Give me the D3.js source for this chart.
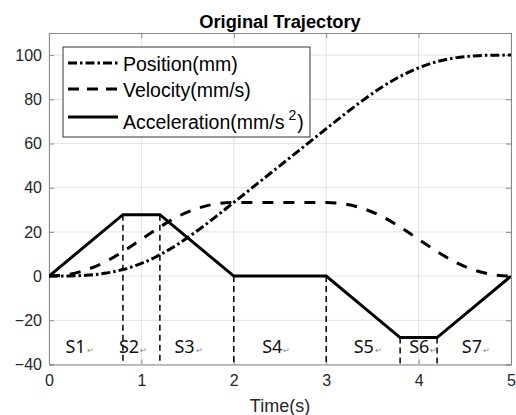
<!DOCTYPE html>
<html><head><meta charset="utf-8">
<script src="https://cdn.jsdelivr.net/npm/d3@7"></script>
<style>body{margin:0;background:#fff}svg{display:block}</style>
</head><body><svg id="c" width="516" height="415"></svg>
<script>
// ---- data ----
const timeSamples = [0,0.2,0.4,0.6,0.8,1.0,1.2,1.4,1.6,1.8,2.0,2.2,2.4,2.6,2.8,3.0,3.2,3.4,3.6,3.8,4.0,4.2,4.4,4.6,4.8,5.0];
const position = [0,0.05,0.37,1.25,2.96,5.74,9.63,14.58,20.37,26.71,33.33,40.0,46.67,53.33,60.0,66.67,73.29,79.63,85.42,90.37,94.26,97.04,98.75,99.63,99.95,100];
const velocity = [0,0.69,2.78,6.25,11.11,16.67,22.22,27.08,30.56,32.64,33.33,33.33,33.33,33.33,33.33,33.33,32.64,30.56,27.08,22.22,16.67,11.11,6.25,2.78,0.69,0];
const accelTimes = [0,0.8,1.2,2,3,3.8,4.2,5];
const accelValues = [0,27.8,27.8,0,0,-27.8,-27.8,0];
const segmentTimes = [0.8,1.2,2,3,3.8,4.2];
const segmentLabels = ["S1","S2","S3","S4","S5","S6","S7"];
const segmentLabelX = [0.33,0.91,1.51,2.46,3.45,4.05,4.62];
const xTicks = [0,1,2,3,4,5];
const yTicks = [-40,-20,0,20,40,60,80,100];
const legendLabels = ["Position(mm)","Velocity(mm/s)","Acceleration(mm/s"];
const titleText = "Original Trajectory";
const xLabel = "Time(s)";

// ---- layout ----
const svg = d3.select("#c");
const L = 49, R = 511, T = 33, B = 364.5;
const x = d3.scaleLinear().domain([0,5]).range([L,R]);
const y = d3.scaleLinear().domain([-40,110]).range([B,T]);
const font = "'Liberation Sans', Arial, sans-serif";

// grid
const g = svg.append("g");
g.selectAll(".gx").data(xTicks).enter().append("line")
  .attr("x1",d=>x(d)).attr("x2",d=>x(d)).attr("y1",T).attr("y2",B)
  .attr("stroke","#e3e3e3").attr("stroke-width",1);
g.selectAll(".gy").data(yTicks).enter().append("line")
  .attr("x1",L).attr("x2",R).attr("y1",d=>y(d)).attr("y2",d=>y(d))
  .attr("stroke","#e3e3e3").attr("stroke-width",1);

// axes (ticks inward, box)
const axB = d3.axisBottom(x).tickValues(xTicks).tickSize(-5).tickPadding(10).tickFormat(d3.format("d"));
const axT = d3.axisTop(x).tickValues(xTicks).tickSize(-5).tickFormat("");
const axL = d3.axisLeft(y).tickValues(yTicks).tickSize(-5).tickPadding(7).tickFormat(d3.format("d"));
const axR = d3.axisRight(y).tickValues(yTicks).tickSize(-5).tickFormat("");
function styleAx(sel){
  sel.select(".domain").attr("stroke","#888").attr("stroke-width",1);
  sel.selectAll(".tick line").attr("stroke","#888");
  sel.selectAll(".tick text").attr("fill","#262626").style("font-family",font).style("font-size","16px");
}
svg.append("g").attr("transform",`translate(0,${B})`).call(axB).call(styleAx);
svg.append("g").attr("transform",`translate(0,${T})`).call(axT).call(styleAx);
svg.append("g").attr("transform",`translate(${L},0)`).call(axL).call(styleAx);
svg.append("g").attr("transform",`translate(${R},0)`).call(axR).call(styleAx);

// clip
svg.append("clipPath").attr("id","clip").append("rect").attr("x",L).attr("y",T).attr("width",R-L).attr("height",B-T);
const plot = svg.append("g").attr("clip-path","url(#clip)");

// segment dashed verticals
segmentTimes.forEach(t=>{
  const i = accelTimes.indexOf(t);
  plot.append("line").attr("x1",x(t)).attr("x2",x(t))
    .attr("y1",y(accelValues[i])).attr("y2",B)
    .attr("stroke","#000").attr("stroke-width",1.5).attr("stroke-dasharray","6,4");
});

// curves
const lineP = d3.line().x((d,i)=>x(timeSamples[i])).y(d=>y(d)).curve(d3.curveMonotoneX);
plot.append("path").datum(position).attr("d",lineP).attr("fill","none")
  .attr("stroke","#000").attr("stroke-width",3).attr("stroke-dasharray","9,3,2.5,3");
plot.append("path").datum(velocity).attr("d",lineP).attr("fill","none")
  .attr("stroke","#000").attr("stroke-width",3).attr("stroke-dasharray","11,10");
const lineA = d3.line().x((d,i)=>x(accelTimes[i])).y(d=>y(d));
plot.append("path").datum(accelValues).attr("d",lineA).attr("fill","none")
  .attr("stroke","#000").attr("stroke-width",3).attr("stroke-linejoin","miter");

// segment labels
segmentLabels.forEach((s,i)=>{
  const t = svg.append("text").attr("x",x(segmentLabelX[i])).attr("y",353)
    .attr("text-anchor","middle").style("font-family","'Noto Sans', sans-serif").style("font-size","18px").attr("fill","#111");
  t.append("tspan").text(s);
  t.append("tspan").text("\u21B5").style("font-size","8px").attr("fill","#888").attr("dx",1);
});

// legend
const lg = svg.append("g");
lg.append("rect").attr("x",63).attr("y",47).attr("width",247).attr("height",90)
  .attr("fill","#fff").attr("stroke","#333").attr("stroke-width",1);
const lineYs = [63,89,117], textYs = [71,97,129];
const dashes = ["9,3,2.5,3","11,8",null];
legendLabels.forEach((s,i)=>{
  const ln = lg.append("line").attr("x1",68).attr("x2",118).attr("y1",lineYs[i]).attr("y2",lineYs[i])
    .attr("stroke","#000").attr("stroke-width",3);
  if(dashes[i]) ln.attr("stroke-dasharray",dashes[i]);
  const t = lg.append("text").attr("x",123).attr("y",textYs[i])
    .style("font-family",font).style("font-size","19.5px").attr("fill","#000");
  t.append("tspan").text(s);
  if(i===2){
    t.append("tspan").text("2").style("font-size","14px").attr("dx",4).attr("dy",-9);
    t.append("tspan").text(")").attr("dx",1).attr("dy",9);
  }
});

// title & x label
svg.append("text").attr("x",(L+R)/2).attr("y",28).attr("text-anchor","middle")
  .style("font-family",font).style("font-size","18.3px").style("font-weight","bold").attr("fill","#000").text(titleText);
svg.append("text").attr("x",(L+R)/2).attr("y",412).attr("text-anchor","middle")
  .style("font-family",font).style("font-size","18px").attr("fill","#262626").text(xLabel);
</script></body></html>
